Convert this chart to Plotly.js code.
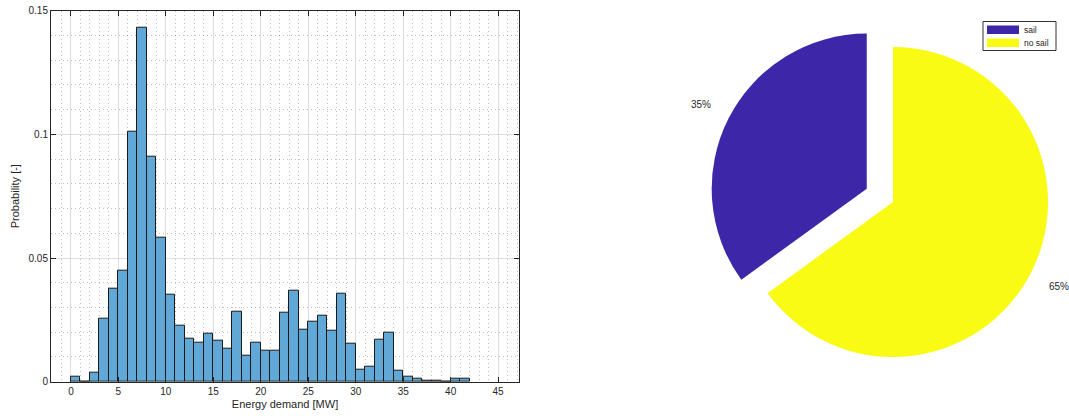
<!DOCTYPE html>
<html><head><meta charset="utf-8">
<script src="https://cdn.plot.ly/plotly-3.0.1.min.js"></script>
<style>html,body{margin:0;padding:0;overflow:hidden;background:#fff;width:1069px;height:418px}</style>
</head><body><div id="chart" style="width:1110px;height:418px"></div>
<script>
// Histogram data (bin left edges, bin width 1 MW)
const binStart = [0,1,2,3,4,5,6,7,8,9,10,11,12,13,14,15,16,17,18,19,20,21,22,23,24,25,26,27,28,29,30,31,32,33,34,35,36,37,38,39,40,41];
const probability = [0.0019,0,0.0036,0.0256,0.0378,0.0449,0.1012,0.1432,0.0908,0.0582,
  0.035,0.0225,0.0173,0.0159,0.0194,0.0167,0.0132,0.0282,0.0104,0.0159,
  0.0124,0.0127,0.0281,0.0368,0.0212,0.0241,0.0267,0.0206,0.0354,0.0154,
  0.0049,0.0062,0.0171,0.0197,0.0044,0.0019,0.0014,0.0006,0.0006,0,
  0.0014,0.0014];
const xTicks = [0,5,10,15,20,25,30,35,40,45];
const yTicks = [0,0.05,0.1,0.15];
const yTickText = ['0','0.05','0.1','0.15'];

// Pie data
const pieLabels = ['sail','no sail'];
const pieValues = [35,65];
const pieColors = ['rgb(62,38,168)','rgb(249,251,21)'];
const piePull = [0.19, 0];

const W = 1110, H = 418;
const px = x => x / W;
const py = y => 1 - y / H;
const txt = '#262626';
const fontFam = '"Liberation Sans", Arial, Helvetica, sans-serif';

const hist = {
  type: 'bar', x: binStart, y: probability, width: 1, offset: 0,
  marker: {color: 'rgb(97,168,214)', line: {color: '#1a1a1a', width: 1}},
  hoverinfo: 'x+y', showlegend: false, xaxis: 'x', yaxis: 'y'
};

// pie box (pixels): centre and radius follow from the domain and the pull
const pieCx = 893, pieCy = 202, pieBox = 369;
const pieR = pieBox / (2 + 2 * Math.max(...piePull));

// slices drawn clockwise from 12 o'clock in reverse order => 'sail' runs counterclockwise from 12 o'clock (MATLAB style)
const rev = a => a.slice().reverse();
const pie = {
  type: 'pie', labels: rev(pieLabels), values: rev(pieValues),
  marker: {colors: rev(pieColors), line: {width: 0}},
  sort: false, direction: 'clockwise', rotation: 0,
  pull: rev(piePull),
  textinfo: 'none',
  domain: {x: [px(pieCx - pieBox/2), px(pieCx + pieBox/2)], y: [py(pieCy + pieBox/2), py(pieCy - pieBox/2)]},
  showlegend: false, hoverinfo: 'label+percent'
};

// percentage labels placed MATLAB-style outside each slice
const total = pieValues.reduce((a, b) => a + b, 0);
const pctAnn = [];
let startDeg = 90;
pieValues.forEach((v, i) => {
  const frac = v / total;
  const mid = (startDeg + frac * 180) * Math.PI / 180;
  startDeg += frac * 360;
  const d = (piePull[i] + 1.2) * pieR;
  pctAnn.push({xref:'paper', yref:'paper', x: px(pieCx + d * Math.cos(mid)), y: py(pieCy - d * Math.sin(mid)),
    xanchor:'center', yanchor:'middle', showarrow:false, text: Math.round(frac * 100) + '%',
    font:{size:10, color:txt, family:fontFam}});
});

// custom legend (MATLAB style wide swatches)
const legShapes = [
  {type:'rect', xref:'paper', yref:'paper', x0:px(983), x1:px(1056), y0:py(50.5), y1:py(21.5),
   line:{color:'#333', width:1}, fillcolor:'#fff'},
  {type:'rect', xref:'paper', yref:'paper', x0:px(987), x1:px(1019), y0:py(34), y1:py(25.5),
   line:{width:0}, fillcolor:pieColors[0]},
  {type:'rect', xref:'paper', yref:'paper', x0:px(987), x1:px(1019), y0:py(47), y1:py(38.5),
   line:{width:0}, fillcolor:pieColors[1]}
];
const legAnn = [
  {xref:'paper', yref:'paper', x:px(1022), y:py(30), xanchor:'left', yanchor:'middle', showarrow:false,
   text:pieLabels[0], font:{size:8.5, color:txt, family:fontFam}},
  {xref:'paper', yref:'paper', x:px(1022), y:py(43), xanchor:'left', yanchor:'middle', showarrow:false,
   text:pieLabels[1], font:{size:8.5, color:txt, family:fontFam}}
];

const axisCommon = {
  ticks: 'inside', ticklen: 5, tickcolor: txt, tickwidth: 1,
  showline: true, linecolor: txt, linewidth: 1, mirror: 'ticks',
  showgrid: true, gridcolor: 'rgb(222,222,222)', gridwidth: 1, zeroline: false,
  tickfont: {size: 10, color: txt, family: fontFam}, automargin: false
};
const minorGrid = {showgrid: true, griddash: '1px,3px', gridcolor: 'rgba(0,0,0,0.25)', gridwidth: 1, ticks: ''};

const layout = {
  width: W, height: H, margin: {l:0, r:0, t:0, b:0},
  paper_bgcolor: '#fff', plot_bgcolor: '#fff',
  font: {family: fontFam, color: txt},
  xaxis: Object.assign({}, axisCommon, {
    domain: [px(51), px(519)], range: [-2.1, 47.2],
    tickmode: 'array', tickvals: xTicks,
    minor: Object.assign({tick0: 0, dtick: 1}, minorGrid),
    title: {text: 'Energy demand [MW]', font: {size: 11, color: txt, family: fontFam}, standoff: 4}
  }),
  yaxis: Object.assign({}, axisCommon, {
    domain: [py(381.7), py(10.7)], range: [0, 0.15],
    tickmode: 'array', tickvals: yTicks, ticktext: yTickText,
    minor: Object.assign({tick0: 0, dtick: 0.01}, minorGrid),
    title: {text: 'Probability [-]', font: {size: 11, color: txt, family: fontFam}, standoff: 6}
  }),
  shapes: legShapes,
  annotations: legAnn.concat(pctAnn),
  bargap: 0
};

Plotly.newPlot('chart', [hist, pie], layout, {displayModeBar: false, staticPlot: false});
</script></body></html>
